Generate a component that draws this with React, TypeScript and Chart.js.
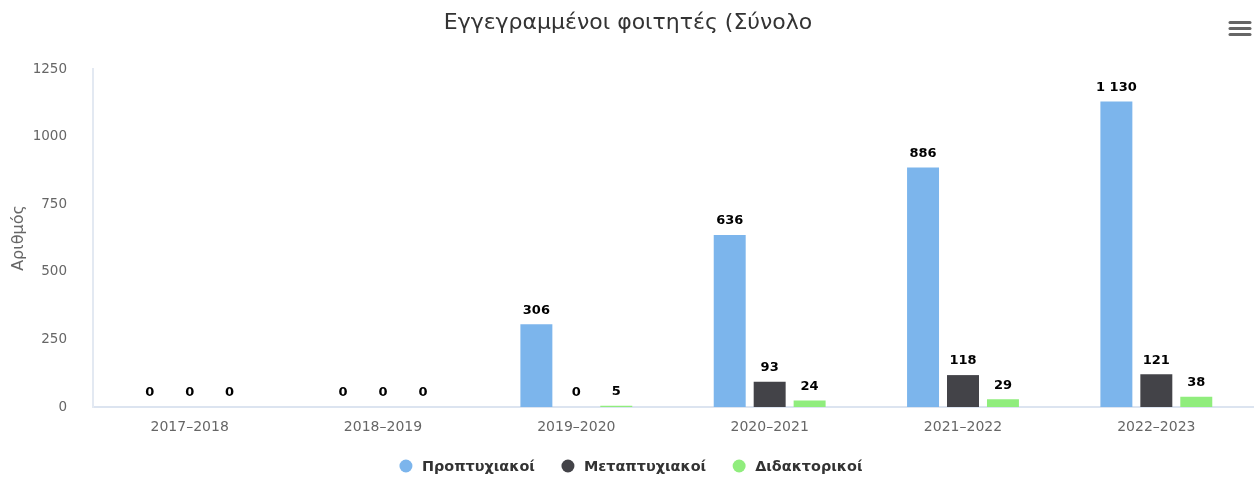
import React, { useEffect, useRef } from 'react';
import { Chart, registerables } from 'chart.js';

Chart.register(...registerables);

const TITLE = 'Εγγεγραμμένοι φοιτητές (Σύνολο';
const Y_AXIS_TITLE = 'Αριθμός';
const categories = ['2017–2018', '2018–2019', '2019–2020', '2020–2021', '2021–2022', '2022–2023'];
const seriesNames = ['Προπτυχιακοί', 'Μεταπτυχιακοί', 'Διδακτορικοί'];
const undergrad = [0, 0, 306, 636, 886, 1130];
const postgrad = [0, 0, 0, 93, 118, 121];
const doctoral = [0, 0, 5, 24, 29, 38];
const seriesColors = ['#7cb5ec', '#434348', '#90ed7d'];
const yMin = 0;
const yMax = 1250;
const yStep = 250;

const FONT = "'DejaVu Sans', Verdana, sans-serif";

const fmt = (v: number) => String(v).replace(/\B(?=(\d{3})+(?!\d))/g, ' ');

const decorPlugin = {
  id: 'decor',
  afterDatasetsDraw(chart: any) {
    const ctx = chart.ctx as CanvasRenderingContext2D;
    ctx.save();
    ctx.font = `bold 13px ${FONT}`;
    ctx.textAlign = 'center';
    ctx.textBaseline = 'middle';
    ctx.lineJoin = 'round';
    chart.data.datasets.forEach((ds: any, di: number) => {
      const meta = chart.getDatasetMeta(di);
      meta.data.forEach((el: any, i: number) => {
        const txt = fmt(ds.data[i]);
        const x = el.x;
        const y = el.y - 14;
        ctx.strokeStyle = '#ffffff';
        ctx.lineWidth = 2;
        ctx.strokeText(txt, x, y);
        ctx.fillStyle = '#000000';
        ctx.fillText(txt, x, y);
      });
    });
    ctx.restore();
  },
  afterDraw(chart: any) {
    const ctx = chart.ctx as CanvasRenderingContext2D;
    const W = chart.width;
    // title
    ctx.save();
    ctx.font = `22px ${FONT}`;
    ctx.fillStyle = '#333333';
    ctx.textAlign = 'center';
    ctx.textBaseline = 'middle';
    ctx.fillText(TITLE, 628, 23);
    ctx.restore();

    // menu icon
    ctx.save();
    ctx.strokeStyle = '#666666';
    ctx.lineWidth = 3;
    ctx.lineCap = 'round';
    [22.5, 28.5, 34.5].forEach((yy) => {
      ctx.beginPath();
      ctx.moveTo(1230, yy);
      ctx.lineTo(1250, yy);
      ctx.stroke();
    });
    ctx.restore();

    // legend
    ctx.save();
    ctx.font = `bold 14.4px ${FONT}`;
    ctx.textBaseline = 'middle';
    ctx.textAlign = 'left';
    const r = 6.5;
    const gapSymText = 16;
    const gapItems = 33;
    const widths = seriesNames.map((n) => ctx.measureText(n).width);
    let total = 0;
    widths.forEach((w, i) => {
      total += gapSymText + w + (i < widths.length - 1 ? gapItems : 0);
    });
    total += r;
    let x = (W - total) / 2 + r + 2;
    const ly = 466;
    seriesNames.forEach((n, i) => {
      ctx.fillStyle = seriesColors[i];
      ctx.beginPath();
      ctx.arc(x, ly, r, 0, Math.PI * 2);
      ctx.fill();
      ctx.fillStyle = '#333333';
      ctx.fillText(n, x + gapSymText, ly + 1);
      x += gapSymText + widths[i] + gapItems;
    });
    ctx.restore();
  },
};

export default function App() {
  const ref = useRef<HTMLCanvasElement | null>(null);

  useEffect(() => {
    if (!ref.current) return;
    const data = [undergrad, postgrad, doctoral];
    const chart = new Chart(ref.current, {
      type: 'bar',
      data: {
        labels: categories,
        datasets: seriesNames.map((name, i) => ({
          label: name,
          data: data[i],
          backgroundColor: seriesColors[i],
          borderWidth: 0,
          categoryPercentage: 0.62,
          barPercentage: 0.8,
        })),
      },
      options: {
        animation: false,
        responsive: false,
        maintainAspectRatio: false,
        layout: { padding: { top: 69, left: 0, right: 5, bottom: 42 } },
        plugins: {
          legend: { display: false },
          title: { display: false },
          tooltip: { enabled: false },
        },
        scales: {
          x: {
            grid: { display: false },
            border: { display: true, color: '#dce4f0', width: 2 },
            ticks: {
              color: '#666666',
              font: { family: FONT, size: 14 },
              padding: 4,
              maxRotation: 0,
              autoSkip: false,
            },
            afterFit: (s: any) => {
              s.height = 30;
            },
          },
          y: {
            min: yMin,
            max: yMax,
            grid: { display: false },
            border: { display: true, color: '#e3e9f2', width: 2 },
            ticks: {
              stepSize: yStep,
              color: '#666666',
              font: { family: FONT, size: 13.5 },
              padding: 18,
              callback: (v: any) => String(v),
            },
            title: {
              display: true,
              text: Y_AXIS_TITLE,
              color: '#666666',
              font: { family: FONT, size: 16 },
              padding: { top: 9, bottom: 0 },
            },
            afterFit: (s: any) => {
              s.width = 93;
            },
          },
        },
      },
      plugins: [decorPlugin],
    });
    return () => chart.destroy();
  }, []);

  return (
    <div style={{ position: 'fixed', left: 0, top: 0, width: 1258, height: 479, background: '#fff' }}>
      <canvas ref={ref} width={1258} height={479} style={{ display: 'block', width: 1258, height: 479 }} />
    </div>
  );
}
